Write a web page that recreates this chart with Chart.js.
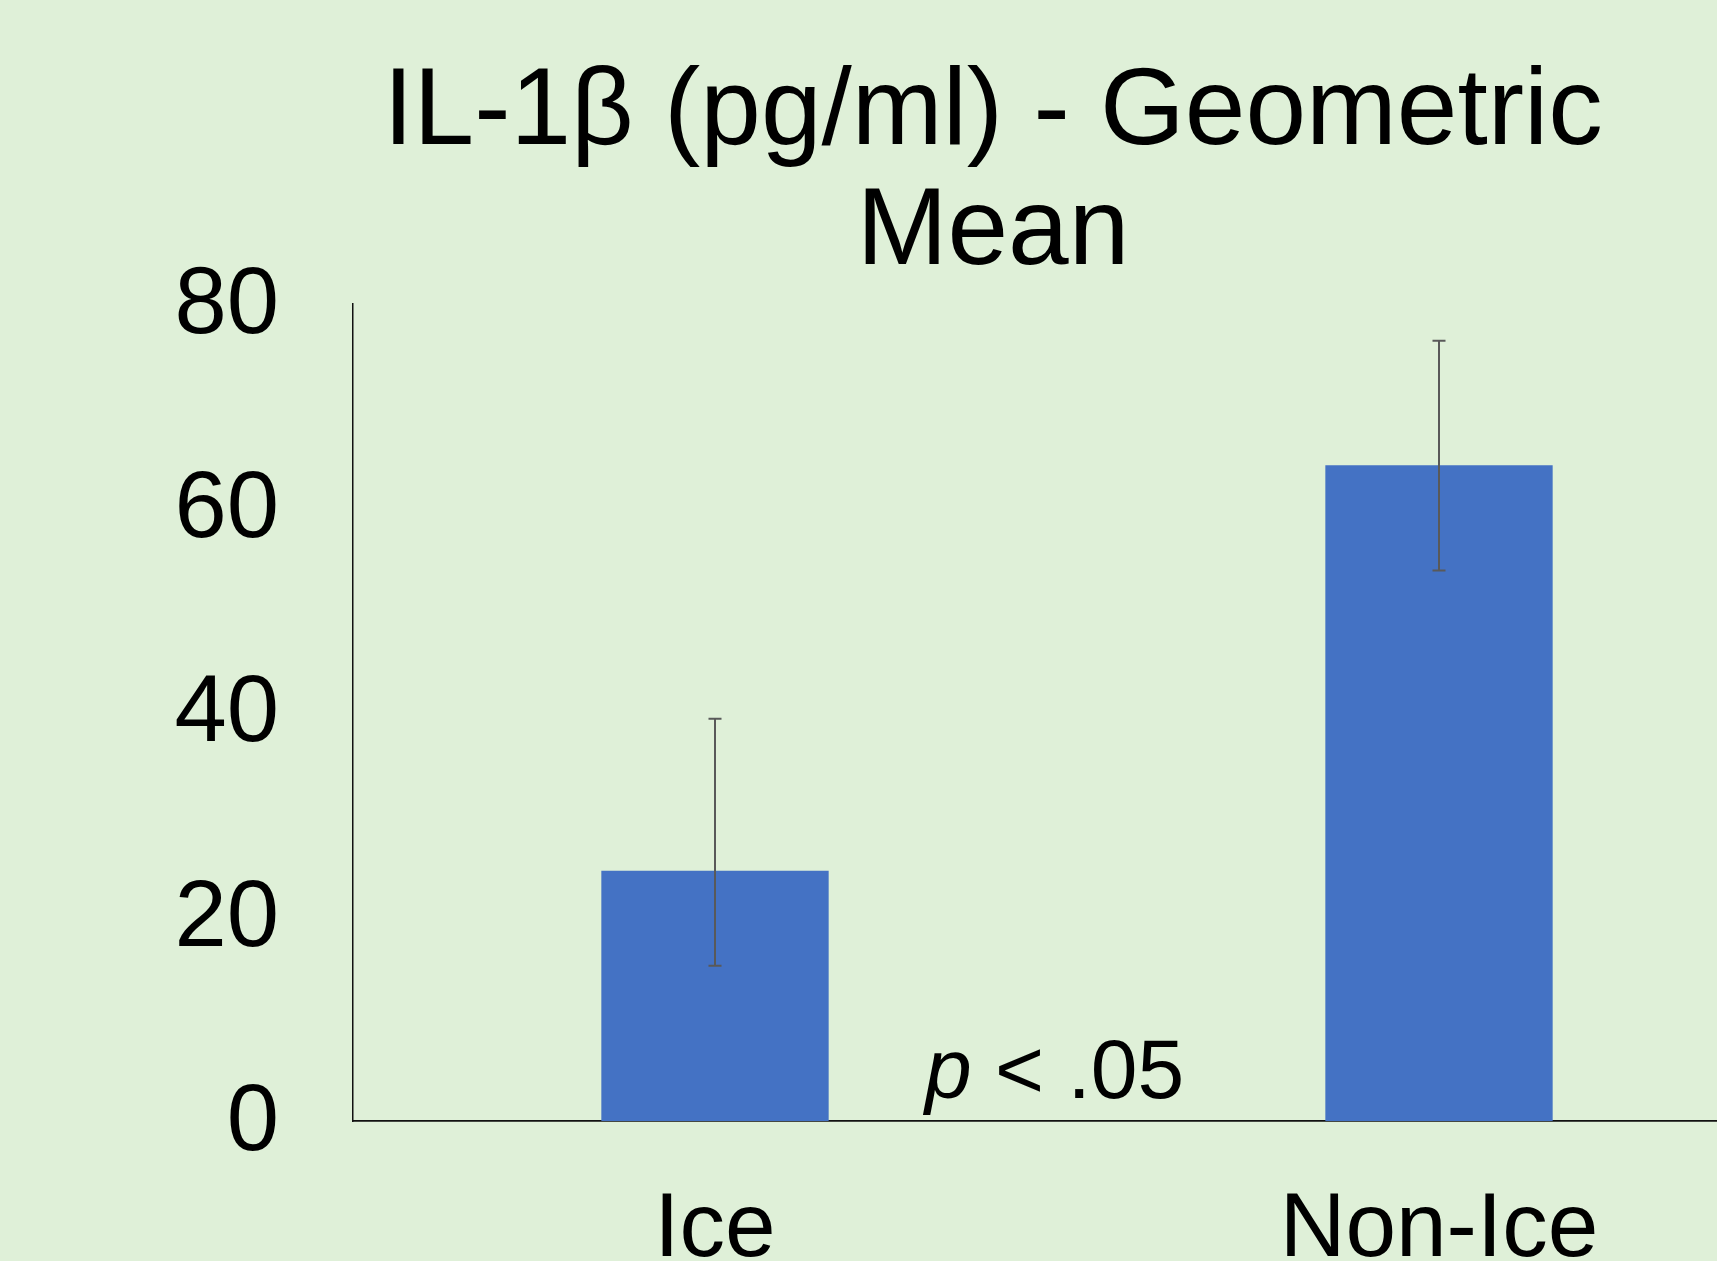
<!DOCTYPE html>
<html><head><meta charset="utf-8">
<script src="https://cdn.jsdelivr.net/npm/chart.js@4/dist/chart.umd.min.js"></script>
<style>
html,body{margin:0;padding:0;width:1717px;height:1261px;overflow:hidden;background:#DFF0D8;}
#wrap{position:absolute;left:0;top:0;width:1986px;height:1341px;}
canvas{display:block;}
</style></head><body>
<div id="wrap"><canvas id="c" width="1986" height="1341"></canvas></div>
<script>
// ---- data ----
const categories = ['Ice', 'Non-Ice'];
const geoMeans = [24.5, 64.2];
const errLow = [15.2, 53.9];
const errHigh = [39.4, 76.4];
const yTicks = [0, 20, 40, 60, 80];
const titleLines = ['IL-1β (pg/ml) - Geometric', 'Mean'];
const pItalic = 'p';
const pRest = ' < .05';

const FONT = "'Liberation Sans', Arial, sans-serif";

const errorBars = {
  id: 'errorBars',
  afterDatasetsDraw(chart) {
    const ctx = chart.ctx;
    const meta = chart.getDatasetMeta(0);
    const y = chart.scales.y;
    ctx.save();
    ctx.strokeStyle = '#595959';
    ctx.lineWidth = 2;
    meta.data.forEach((bar, i) => {
      const x = bar.x;
      const yh = y.getPixelForValue(errHigh[i]);
      const yl = y.getPixelForValue(errLow[i]);
      ctx.beginPath();
      ctx.moveTo(x, yh); ctx.lineTo(x, yl);
      ctx.moveTo(x - 6.5, yh); ctx.lineTo(x + 6.5, yh);
      ctx.moveTo(x - 6.5, yl); ctx.lineTo(x + 6.5, yl);
      ctx.stroke();
    });
    ctx.restore();
  }
};

const pNote = {
  id: 'pNote',
  afterDraw(chart) {
    const ctx = chart.ctx;
    const meta = chart.getDatasetMeta(0);
    const mid = (meta.data[0].x + meta.data[1].x) / 2;
    const base = chart.scales.y.getPixelForValue(0) - 23;
    let x = mid - 152;
    ctx.save();
    ctx.fillStyle = '#000';
    ctx.textBaseline = 'alphabetic';
    ctx.textAlign = 'left';
    ctx.font = "italic 84px " + FONT;
    ctx.fillText(pItalic, x, base);
    x += ctx.measureText(pItalic).width;
    ctx.font = "84px " + FONT;
    ctx.fillText(pRest, x, base);
    ctx.restore();
  }
};

new Chart(document.getElementById('c'), {
  type: 'bar',
  data: {
    labels: categories,
    datasets: [{
      data: geoMeans,
      backgroundColor: '#4472C4',
      borderWidth: 0,
      barPercentage: 0.314,
      categoryPercentage: 1,
      yAxisID: 'y'
    }]
  },
  options: {
    responsive: false,
    animation: false,
    devicePixelRatio: 1,
    layout: { padding: 0 },
    plugins: {
      legend: { display: false },
      tooltip: { enabled: false },
      title: {
        display: true,
        text: titleLines,
        color: '#000',
        font: { family: FONT, size: 109, weight: 'normal', lineHeight: 1.1 },
        padding: { top: 54, bottom: 10.2 }
      }
    },
    scales: {
      x: {
        grid: { display: false, drawTicks: false },
        border: { display: true, color: '#111', width: 1.8 },
        ticks: { color: '#000', padding: 55.4, maxRotation: 0, font: { family: FONT, size: 91, lineHeight: 1.2 } }
      },
      y: {
        position: 'left',
        min: 0, max: 80,
        afterBuildTicks: s => { s.ticks = yTicks.map(v => ({ value: v })); },
        afterFit: s => { s.width = 353; },
        grid: { display: false, drawTicks: false },
        border: { display: true, color: '#111', width: 1.5 },
        ticks: { color: '#000', padding: 74, labelOffset: 3, font: { family: FONT, size: 94, lineHeight: 1.2 } }
      },
      yRight: {
        type: 'linear',
        position: 'right',
        display: true,
        afterFit: s => { s.width = 185; },
        grid: { display: false, drawTicks: false },
        border: { display: false },
        ticks: { display: false }
      }
    }
  },
  plugins: [errorBars, pNote]
});
</script>
</body></html>
